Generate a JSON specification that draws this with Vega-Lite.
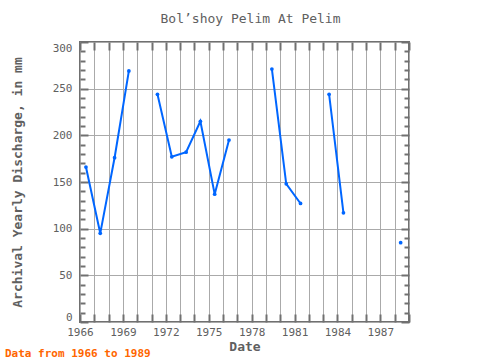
{
  "$schema": "https://vega.github.io/schema/vega-lite/v6.json",
  "width": 329,
  "height": 280,
  "autosize": {"type": "none"},
  "padding": {"left": 80, "top": 42, "right": 71, "bottom": 38},
  "title": {"text": "Data from 1966 to 1989", "orient": "bottom", "anchor": "start", "frame": "group", "dx": -75, "offset": -5, "color": "#ff6600", "font": "DejaVu Sans Mono", "fontSize": 11, "fontWeight": "bold"},
  "config": {
    "view": {"stroke": "#707070", "strokeWidth": 2},
    "axis": {"domain": false, "tickColor": "#707070", "tickWidth": 2, "gridColor": "#aaaaaa", "gridWidth": 1, "labelFont": "DejaVu Sans Mono", "labelFontSize": 11, "labelColor": "#606060", "titleFont": "DejaVu Sans Mono", "titleFontSize": 13, "titleColor": "#606060", "titleFontWeight": "bold"}
  },
  "data": {"values": [
    {"date": "1966-06-02", "v": 166},
    {"date": "1967-06-02", "v": 95},
    {"date": "1968-06-02", "v": 176},
    {"date": "1969-06-02", "v": 269},
    {"date": "1970-06-02", "v": null},
    {"date": "1971-06-02", "v": 244},
    {"date": "1972-06-02", "v": 177},
    {"date": "1973-06-02", "v": 182},
    {"date": "1974-06-02", "v": 215},
    {"date": "1975-06-02", "v": 137},
    {"date": "1976-06-02", "v": 195},
    {"date": "1977-06-02", "v": null},
    {"date": "1978-06-02", "v": null},
    {"date": "1979-06-02", "v": 271},
    {"date": "1980-06-02", "v": 148},
    {"date": "1981-06-02", "v": 127},
    {"date": "1982-06-02", "v": null},
    {"date": "1983-06-02", "v": 244},
    {"date": "1984-06-02", "v": 117},
    {"date": "1985-06-02", "v": null},
    {"date": "1986-06-02", "v": null},
    {"date": "1987-06-02", "v": null},
    {"date": "1988-06-02", "v": 85}
  ]},
  "resolve": {"axis": {"x": "independent", "y": "independent"}},
  "layer": [
    {
      "mark": {"type": "line", "color": "#0066ff", "strokeWidth": 2, "invalid": "break-paths-filter-domains"},
      "encoding": {
        "x": {"field": "date", "type": "temporal", "scale": {"domain": [{"year": 1966, "month": 1, "date": 1}, {"year": 1989, "month": 1, "date": 1}]},
          "axis": {"title": "Date", "orient": "bottom", "grid": true, "tickSize": -8, "labelPadding": 12, "values": [{"year":1966},{"year":1967},{"year":1968},{"year":1969},{"year":1970},{"year":1971},{"year":1972},{"year":1973},{"year":1974},{"year":1975},{"year":1976},{"year":1977},{"year":1978},{"year":1979},{"year":1980},{"year":1981},{"year":1982},{"year":1983},{"year":1984},{"year":1985},{"year":1986},{"year":1987},{"year":1988},{"year":1989}], "labelExpr": "(year(datum.value) - 1966) % 3 == 0 ? timeFormat(datum.value, '%Y') : ''", "labelFlush": false, "labelOverlap": false, "titlePadding": 3}},
        "y": {"field": "v", "type": "quantitative", "scale": {"domain": [0, 300]},
          "axis": {"title": "Archival Yearly Discharge, in mm", "grid": true, "values": [0, 50, 100, 150, 200, 250, 300], "tickSize": -8, "labelPadding": 16, "labelFlush": true, "titlePadding": 28}}
      }
    },
    {
      "mark": {"type": "point", "filled": true, "color": "#0066ff", "size": 14, "opacity": 1},
      "encoding": {
        "x": {"field": "date", "type": "temporal", "axis": {"title": "Bol’shoy Pelim At Pelim", "orient": "top", "grid": false, "labels": false, "tickSize": -8, "titleFontWeight": "normal", "titlePadding": 16, "titleX": 170, "values": [{"year":1966},{"year":1967},{"year":1968},{"year":1969},{"year":1970},{"year":1971},{"year":1972},{"year":1973},{"year":1974},{"year":1975},{"year":1976},{"year":1977},{"year":1978},{"year":1979},{"year":1980},{"year":1981},{"year":1982},{"year":1983},{"year":1984},{"year":1985},{"year":1986},{"year":1987},{"year":1988},{"year":1989}]}},
        "y": {"field": "v", "type": "quantitative", "axis": {"title": null, "orient": "right", "grid": false, "labels": false, "tickSize": -8, "values": [0, 50, 100, 150, 200, 250, 300]}}
      }
    },
    {
      "mark": {"type": "point", "opacity": 0},
      "encoding": {
        "x": {"field": "date", "type": "temporal", "axis": null},
        "y": {"field": "v", "type": "quantitative", "axis": {"title": null, "orient": "left", "grid": false, "labels": false, "tickSize": -5, "values": [10,20,30,40,60,70,80,90,110,120,130,140,160,170,180,190,210,220,230,240,260,270,280,290]}}
      }
    },
    {
      "mark": {"type": "point", "opacity": 0},
      "encoding": {
        "x": {"field": "date", "type": "temporal", "axis": null},
        "y": {"field": "v", "type": "quantitative", "axis": {"title": null, "orient": "right", "grid": false, "labels": false, "tickSize": -5, "values": [10,20,30,40,60,70,80,90,110,120,130,140,160,170,180,190,210,220,230,240,260,270,280,290]}}
      }
    }
  ]
}
